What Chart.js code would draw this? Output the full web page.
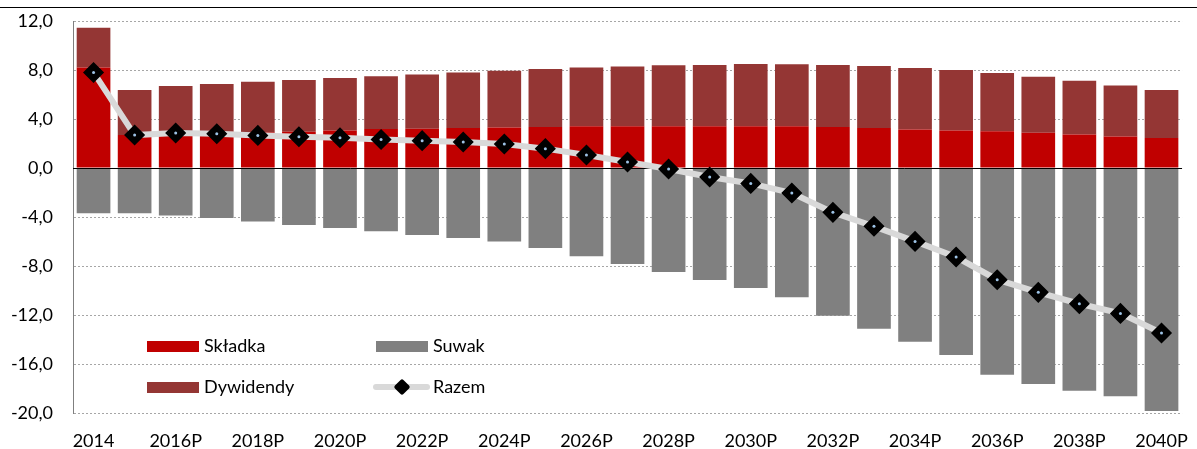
<!DOCTYPE html>
<html lang="pl">
<head>
<meta charset="utf-8">
<title>Składka, dywidendy, suwak</title>
<script src="https://cdn.jsdelivr.net/npm/chart.js@4/dist/chart.umd.min.js"></script>
<style>
  body { margin: 0; background: #fff; }
  #wrap { position: relative; width: 1197px; height: 449px; font-family: Lato, "Open Sans", sans-serif; }
  #topline { position: absolute; left: 0; top: 7px; width: 1197px; height: 1px; background: #000; }
  .leg { position: absolute; font-size: 18px; color: #000; line-height: 18px; }
  .sw { position: absolute; width: 52px; height: 11px; }
  .razem-line { position: absolute; width: 57px; height: 6px; background: #d9d9d9; border-radius: 3px; }
  .razem-pt { position: absolute; width: 12px; height: 12px; background: #000; border-radius: 2px; transform: rotate(45deg); }
</style>
</head>
<body>
<div id="wrap">
  <canvas id="wykres" width="1197" height="449"></canvas>
  <div id="topline"></div>
  <!-- legenda -->
  <div class="sw" style="left:147px;top:341px;background:#c00000"></div>
  <div class="leg" style="left:204px;top:336px">Składka</div>
  <div class="sw" style="left:376px;top:341px;background:#808080"></div>
  <div class="leg" style="left:433px;top:336px">Suwak</div>
  <div class="sw" style="left:147px;top:382px;background:#943634"></div>
  <div class="leg" style="left:204px;top:377px">Dywidendy</div>
  <div class="razem-line" style="left:373px;top:384px"></div>
  <div class="razem-pt" style="left:396px;top:381px"></div>
  <div class="leg" style="left:433px;top:377px">Razem</div>
</div>
<script>
const lata = ['2014', '2015P', '2016P', '2017P', '2018P', '2019P', '2020P', '2021P', '2022P',
  '2023P', '2024P', '2025P', '2026P', '2027P', '2028P', '2029P', '2030P', '2031P', '2032P',
  '2033P', '2034P', '2035P', '2036P', '2037P', '2038P', '2039P', '2040P'];

const skladka = [8.2, 2.7, 3.0, 2.95, 2.9, 2.95, 3.07, 3.18, 3.2, 3.27, 3.3, 3.35, 3.4, 3.4,
  3.4, 3.4, 3.4, 3.4, 3.35, 3.27, 3.15, 3.07, 3.0, 2.88, 2.74, 2.58, 2.45];
const dywidendy = [3.25, 3.67, 3.69, 3.91, 4.14, 4.23, 4.28, 4.3, 4.44, 4.53, 4.64, 4.73, 4.81,
  4.89, 4.98, 5.0, 5.09, 5.06, 5.05, 5.06, 5.01, 4.93, 4.76, 4.57, 4.39, 4.16, 3.92];
const suwak = [-3.7, -3.7, -3.87, -4.08, -4.36, -4.65, -4.9, -5.17, -5.47, -5.71, -5.99, -6.53,
  -7.21, -7.84, -8.49, -9.14, -9.8, -10.56, -12.06, -13.12, -14.18, -15.27, -16.87, -17.63,
  -18.18, -18.64, -19.84];
const razem = [7.8, 2.69, 2.86, 2.8, 2.66, 2.55, 2.47, 2.33, 2.23, 2.12, 1.96, 1.58, 1.06, 0.49,
  -0.08, -0.73, -1.26, -2.04, -3.62, -4.76, -5.99, -7.27, -9.12, -10.15, -11.08, -11.87, -13.47];

const osY = { min: -20, max: 12, krok: 4 };

// linia zera nad słupkami, a pod linią "Razem"
const liniaZera = {
  id: 'liniaZera',
  beforeDatasetDraw(chart, args) {
    if (args.index !== 3) return;
    const { ctx, chartArea, scales } = chart;
    const y = Math.round(scales.y.getPixelForValue(0)) + 0.5;
    ctx.save();
    ctx.strokeStyle = '#000';
    ctx.lineWidth = 1;
    ctx.beginPath();
    ctx.moveTo(chartArea.left, y);
    ctx.lineTo(chartArea.right, y);
    ctx.stroke();
    ctx.restore();
  },
  afterDatasetsDraw(chart) {
    // kropki w środku znaczników
    const ctx = chart.ctx;
    ctx.save();
    ctx.fillStyle = '#9dc3e6';
    chart.getDatasetMeta(3).data.forEach(p => {
      ctx.beginPath();
      ctx.arc(p.x, p.y, 1.5, 0, Math.PI * 2);
      ctx.fill();
    });
    ctx.restore();
  }
};

const ctx = document.getElementById('wykres').getContext('2d');
new Chart(ctx, {
  type: 'bar',
  data: {
    labels: lata,
    datasets: [
      { label: 'Składka', data: skladka, backgroundColor: '#c00000', stack: 's', order: 1 },
      { label: 'Dywidendy', data: dywidendy, backgroundColor: '#943634', stack: 's', order: 1 },
      { label: 'Suwak', data: suwak, backgroundColor: '#808080', stack: 's', order: 1 },
      {
        type: 'line', label: 'Razem', data: razem, stack: 'r', order: 0,
        borderColor: '#d9d9d9', borderWidth: 6, tension: 0,
        pointStyle: 'rectRot', pointRadius: 9.5, pointBackgroundColor: '#000',
        pointBorderColor: '#000', pointBorderWidth: 1.5
      }
    ]
  },
  options: {
    responsive: false,
    animation: false,
    datasets: { bar: { categoryPercentage: 1, barPercentage: 0.82 } },
    layout: { padding: { top: 21, right: 8, left: 0, bottom: 0 } },
    plugins: { legend: { display: false }, tooltip: { enabled: false } },
    font: { family: 'Lato', size: 18 },
    scales: {
      x: {
        stacked: true,
        grid: { display: false },
        border: { display: false },
        ticks: {
          color: '#000', font: { family: 'Lato', size: 18 }, padding: 9,
          autoSkip: false, maxRotation: 0,
          callback: (v, i) => (i % 2 === 0 ? lata[i] : '')
        },
        afterFit: s => { s.height = 36; }
      },
      y: {
        stacked: true,
        min: osY.min, max: osY.max,
        grid: {
          drawTicks: false,
          color: c => (c.tick && c.tick.value === 0 ? 'rgba(0,0,0,0)' : '#a6a6a6')
        },
        border: { display: true, color: '#7f7f7f', width: 1, dash: [2, 2] },
        ticks: {
          stepSize: osY.krok, color: '#000', padding: 20,
          font: { family: 'Lato', size: 18 },
          callback: v => v.toFixed(1).replace('.', ',')
        },
        afterFit: s => {
          s.width = 73;
          s.paddingTop = 0;
          s.paddingBottom = 0;
        }
      }
    }
  },
  plugins: [liniaZera]
});
</script>
</body>
</html>
